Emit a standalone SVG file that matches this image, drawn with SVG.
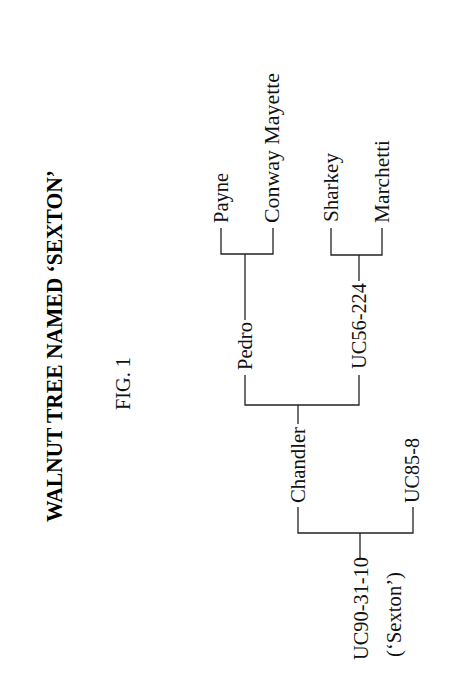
<svg xmlns="http://www.w3.org/2000/svg" width="465" height="700" viewBox="0 0 465 700">
<style>
  .bg{fill:#ffffff}
  .t{font-family:"Liberation Serif","Times New Roman",serif;font-size:20px;fill:#111111}
  .title{font-family:"Liberation Serif","Times New Roman",serif;font-size:24px;font-weight:bold;fill:#000000}
  .fig{font-family:"Liberation Serif","Times New Roman",serif;font-size:20px;fill:#111111}
  .c{stroke:#222222;stroke-width:1.3;fill:none}
</style>
<rect class="bg" x="0" y="0" width="465" height="700"/>
<g id="title">
  <text class="title" transform="translate(62,522) rotate(-90)" textLength="352" lengthAdjust="spacingAndGlyphs">WALNUT TREE NAMED ‘SEXTON’</text>
</g>
<g id="fig-label">
  <text class="fig" transform="translate(130,410) rotate(-90)" textLength="53" lengthAdjust="spacingAndGlyphs">FIG. 1</text>
</g>
<g id="connectors">
  <path class="c" d="M221,228 V254 H273 V228"/>
  <path class="c" d="M245,254 V320"/>
  <path class="c" d="M331,228 V255 H382 V228"/>
  <path class="c" d="M359,255 V281"/>
  <path class="c" d="M245,375 V405 H359 V375"/>
  <path class="c" d="M298,405 V424"/>
  <path class="c" d="M298,507 V533 H413 V507"/>
  <path class="c" d="M360,533 V558"/>
</g>
<g id="node-payne">
  <text class="t" transform="translate(228,223) rotate(-90)" textLength="50" lengthAdjust="spacingAndGlyphs">Payne</text>
</g>
<g id="node-conway-mayette">
  <text class="t" transform="translate(279,223) rotate(-90)" textLength="150" lengthAdjust="spacingAndGlyphs">Conway Mayette</text>
</g>
<g id="node-sharkey">
  <text class="t" transform="translate(338,222) rotate(-90)" textLength="69" lengthAdjust="spacingAndGlyphs">Sharkey</text>
</g>
<g id="node-marchetti">
  <text class="t" transform="translate(389,223) rotate(-90)" textLength="83" lengthAdjust="spacingAndGlyphs">Marchetti</text>
</g>
<g id="node-pedro">
  <text class="t" transform="translate(252,370) rotate(-90)" textLength="48" lengthAdjust="spacingAndGlyphs">Pedro</text>
</g>
<g id="node-uc56-224">
  <text class="t" transform="translate(366,369) rotate(-90)" textLength="86" lengthAdjust="spacingAndGlyphs">UC56-224</text>
</g>
<g id="node-chandler">
  <text class="t" transform="translate(305,503) rotate(-90)" textLength="76" lengthAdjust="spacingAndGlyphs">Chandler</text>
</g>
<g id="node-uc85-8">
  <text class="t" transform="translate(419,503) rotate(-90)" textLength="65" lengthAdjust="spacingAndGlyphs">UC85-8</text>
</g>
<g id="node-uc90-31-10">
  <text class="t" transform="translate(368,660) rotate(-90)" textLength="103" lengthAdjust="spacingAndGlyphs">UC90-31-10</text>
  <text class="t" transform="translate(401,657) rotate(-90)" textLength="85" lengthAdjust="spacingAndGlyphs">(‘Sexton’)</text>
</g>
</svg>
